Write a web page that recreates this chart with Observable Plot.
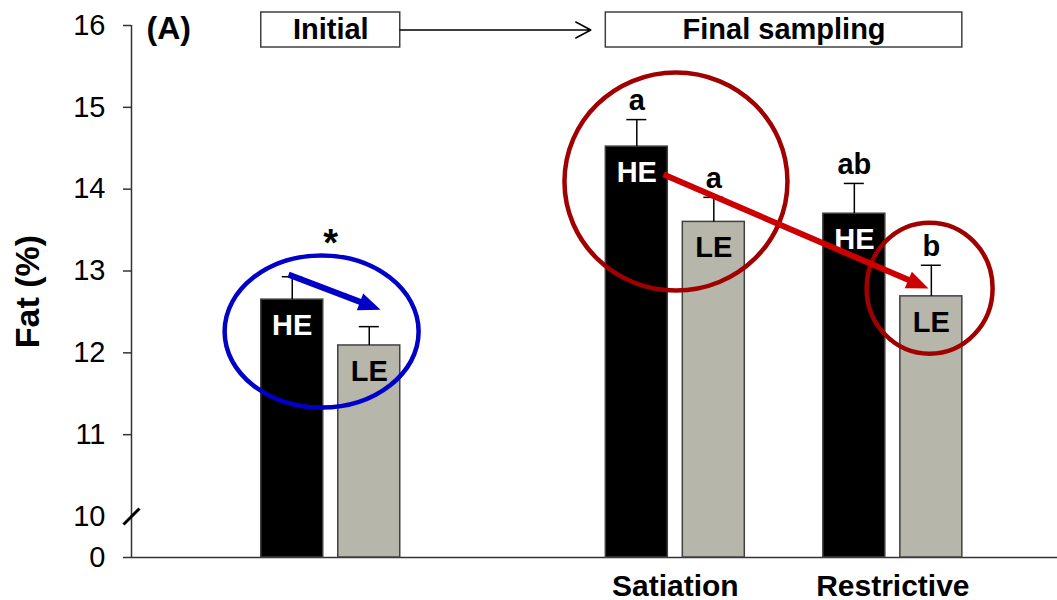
<!DOCTYPE html>
<html><head><meta charset="utf-8">
<script src="https://cdn.jsdelivr.net/npm/d3@7"></script>
<script src="https://cdn.jsdelivr.net/npm/@observablehq/plot@0.6"></script>
<style>body{margin:0;background:#fff} svg{display:block}</style>
</head><body><div id="chart"></div>
<script>
// ---- data ----
const groups = ["Initial", "Satiation", "Restrictive"];
const heMean = [12.65, 14.52, 13.70];
const heSE = [0.28, 0.33, 0.37];
const leMean = [12.09, 13.60, 12.69];
const leSE = [0.23, 0.30, 0.38];
const heLetters = ["", "a", "ab"];
const leLetters = ["", "a", "b"];
const groupMarks = ["*", "", ""];
const groupLabels = ["", "Satiation", "Restrictive"];
const yTicks = [0, 10, 11, 12, 13, 14, 15, 16];
const headers = [
  {label: "Initial", from: "Initial", to: "Initial"},
  {label: "Final sampling", from: "Satiation", to: "Restrictive"}
];

// ---- layout (not data) ----
const W = 1057, H = 600;
const slot = {Initial: 0.416, Satiation: 2, Restrictive: 3};
const off = {HE: -0.177, LE: 0.177};
const half = 0.1425, capHalf = 0.046;
const xScale = {type: "linear", domain: [-0.5, 3.757], range: [131, 1057]};
const yScale = {type: "linear", domain: [0, 10, 16], range: [557, 516, 25]};
const sx = Plot.scale({x: xScale});
const sy = Plot.scale({y: yScale});
const font = "'Liberation Sans', Arial, sans-serif";

const rows = [];
groups.forEach((g, i) => {
  rows.push({group: g, series: "HE", mean: heMean[i], se: heSE[i], letter: heLetters[i]});
  rows.push({group: g, series: "LE", mean: leMean[i], se: leSE[i], letter: leLetters[i]});
});
const cx = d => slot[d.group] + off[d.series];
const groupRows = groups.map((g, i) => ({group: g, mark: groupMarks[i], label: groupLabels[i],
  top: Math.max(heMean[i] + heSE[i], leMean[i] + leSE[i])}));

// annotations (data units)
const ellipses = [
  {x: 0.374, y: 12.26, rx: 97, ry: 76, color: "#0000c8"},
  {x: 2.003, y: 14.093, rx: 111.5, ry: 109, color: "#a00000"},
  {x: 3.169, y: 12.79, rx: 63, ry: 65.5, color: "#a00000"}
];
const arrows = [
  {x1: 0.222, y1: 12.956, x2: 0.645, y2: 12.528, color: "#0000c8"},
  {x1: 1.946, y1: 14.178, x2: 3.164, y2: 12.785, color: "#cc0000"}
];
const K = 0.5523;
function ellipseSymbol(rx, ry) {
  return {draw(c) {
    c.moveTo(rx, 0);
    c.bezierCurveTo(rx, K*ry, K*rx, ry, 0, ry);
    c.bezierCurveTo(-K*rx, ry, -rx, K*ry, -rx, 0);
    c.bezierCurveTo(-rx, -K*ry, -K*rx, -ry, 0, -ry);
    c.bezierCurveTo(K*rx, -ry, rx, -K*ry, rx, 0);
    c.closePath();
  }};
}
const headLen = 22, headW = 9;
arrows.forEach(a => {
  const px1 = sx.apply(a.x1), py1 = sy.apply(a.y1), px2 = sx.apply(a.x2), py2 = sy.apply(a.y2);
  const t = Math.atan2(py2 - py1, px2 - px1);
  a.ex = sx.invert(px2 - (headLen - 3) * Math.cos(t));
  a.ey = sy.invert(py2 - (headLen - 3) * Math.sin(t));
  const ct = Math.cos(t), st = Math.sin(t);
  a.symbol = {draw(c) {
    const bx = -headLen*ct, by = -headLen*st;
    c.moveTo(0, 0);
    c.lineTo(bx - headW*st, by + headW*ct);
    c.lineTo(bx + headW*st, by - headW*ct);
    c.closePath();
  }};
});

// break mark endpoints
const bx0 = sx.apply(-0.5), by0 = sy.apply(10);
const breakMark = [{x1: sx.invert(bx0 - 8), y1: sy.invert(by0 + 8), x2: sx.invert(bx0 + 8), y2: sy.invert(by0 - 8)}];

const boxY1 = sy.invert(47), boxY2 = sy.invert(12), boxYm = sy.invert(29.5);
const boxX1 = d => slot[d.from] + off.HE - half;
const boxX2 = d => slot[d.to] + off.LE + half;

const bold = {fontWeight: "bold", fontFamily: font};

const chart = Plot.plot({
  width: W, height: H,
  marginLeft: 131, marginRight: 0, marginTop: 25, marginBottom: 43,
  style: {fontFamily: font, background: "#fff", overflow: "visible"},
  x: {...xScale, axis: null},
  y: {...yScale, axis: null},
  marks: [
    // y axis
    Plot.axisY({ticks: yTicks, tickSize: 0, tickPadding: 26, fontSize: 29, tickFormat: d3.format("d"), label: null, fill: "#000"}),
    Plot.axisY({ticks: yTicks.filter(t => t !== 10), tickSize: 8, text: null, label: null, strokeWidth: 1.5, stroke: "#333"}),
    Plot.ruleX([-0.5], {y1: 0, y2: 16, strokeWidth: 1.5, stroke: "#333"}),
    Plot.ruleY([0], {strokeWidth: 1.5, stroke: "#333"}),
    Plot.link(breakMark, {x1: "x1", y1: "y1", x2: "x2", y2: "y2", stroke: "#000", strokeWidth: 3}),
    Plot.text(["Fat (%)"], {frameAnchor: "left", textAnchor: "middle", rotate: -90, dx: -103, fontSize: 34, ...bold, fill: "#000"}),
    Plot.text(["(A)"], {frameAnchor: "top-left", textAnchor: "start", dx: 15, dy: -9, fontSize: 32, ...bold, fill: "#000"}),
    // bars
    Plot.rect(rows, {x1: d => cx(d) - half, x2: d => cx(d) + half, y1: 0, y2: "mean",
      fill: d => d.series === "HE" ? "#000" : "#b6b6aa", stroke: "#404040", strokeWidth: 1.5}),
    Plot.ruleX(rows, {x: cx, y1: "mean", y2: d => d.mean + d.se, stroke: "#000", strokeWidth: 1.5}),
    Plot.ruleY(rows, {y: d => d.mean + d.se, x1: d => cx(d) - capHalf, x2: d => cx(d) + capHalf, stroke: "#000", strokeWidth: 1.5}),
    Plot.text(rows, {x: cx, y: "mean", text: "series", dy: 26, fontSize: 29, ...bold,
      fill: d => d.series === "HE" ? "#fff" : "#000"}),
    Plot.text(rows, {x: cx, y: d => d.mean + d.se, text: "letter", dy: -19, fontSize: 29, ...bold, fill: "#000"}),
    Plot.text(groupRows, {x: d => slot[d.group], y: "top", text: "mark", dy: -33, fontSize: 38, ...bold, fill: "#000"}),
    Plot.text(groupRows, {x: d => slot[d.group], y: 0, text: "label", dy: 29, fontSize: 30, ...bold, fill: "#000"}),
    // headers
    Plot.rect(headers, {x1: boxX1, x2: boxX2, y1: boxY1, y2: boxY2, fill: "#fff", stroke: "#404040", strokeWidth: 1.5}),
    Plot.text(headers, {x: d => (boxX1(d) + boxX2(d)) / 2, y: boxYm, text: "label", fontSize: 29, ...bold, fill: "#000"}),
    Plot.arrow([headers], {x1: d => boxX2(d[0]), x2: d => boxX1(d[1]), y1: boxYm, y2: boxYm, insetEnd: 15,
      stroke: "#000", strokeWidth: 1.5, headLength: 17, headAngle: 56}),
    // annotations
    ...ellipses.map(e => Plot.dot([e], {x: "x", y: "y", r: 1, symbol: ellipseSymbol(e.rx, e.ry), fill: "none", stroke: e.color, strokeWidth: 4.5})),
    Plot.link(arrows, {x1: "x1", y1: "y1", x2: "ex", y2: "ey", stroke: "color", strokeWidth: 6}),
    ...arrows.map(a => Plot.dot([a], {x: "x2", y: "y2", r: 1, symbol: a.symbol, fill: a.color, stroke: "none"}))
  ]
});
document.getElementById("chart").appendChild(chart);
</script>
</body></html>
